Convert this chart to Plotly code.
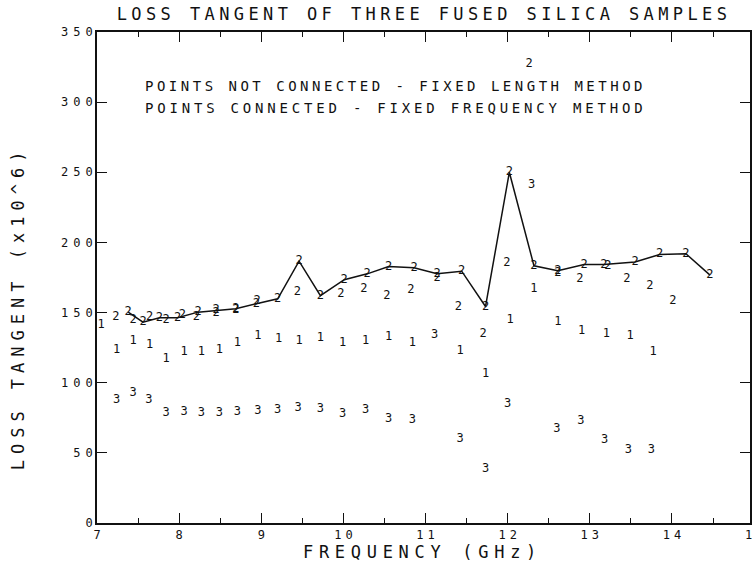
import plotly.graph_objects as go

# ---------------- data ----------------
# Sample 1 - fixed length method (points not connected)
freq_s1 = [7.05, 7.24, 7.44, 7.64, 7.84, 8.06, 8.27, 8.49, 8.71, 8.96, 9.21, 9.46, 9.72,
           9.99, 10.27, 10.55, 10.84, 11.42, 11.73, 12.03, 12.32, 12.61, 12.90, 13.20, 13.49, 13.77]
loss_s1 = [141, 123, 130, 127, 117, 122, 122, 123.5, 128, 133, 131, 130, 132,
           128, 130, 132.5, 128, 122.5, 106, 145, 167, 143, 137, 135, 133, 122]

# Sample 2 - fixed length method (points not connected)
freq_s2 = [7.23, 7.44, 7.64, 7.84, 8.04, 8.21, 8.45, 8.69, 8.95, 9.44, 9.97, 10.25, 10.53,
           10.82, 11.14, 11.40, 11.70, 11.99, 12.26, 12.61, 12.88, 13.22, 13.45, 13.73, 14.01]
loss_s2 = [147, 145, 147, 145, 148.5, 147, 150, 152, 158.5, 164.5, 163.5, 167, 161.5,
           166, 175, 154, 135, 185, 327, 178, 174, 183, 174, 169, 158.6]

# Sample 2 - fixed frequency method (points connected)
freq_s2c = [7.38, 7.56, 7.76, 7.98, 8.23, 8.45, 8.69, 8.94, 9.20, 9.46, 9.72, 10.01, 10.29,
            10.55, 10.86, 11.14, 11.44, 11.73, 12.02, 12.32, 12.61, 12.93, 13.17, 13.55,
            13.85, 14.17, 14.46]
loss_s2c = [150.3, 143.2, 146.3, 146.3, 150.3, 151.5, 152.7, 156.3, 159.8, 186.6, 162, 173.4,
            177.6, 182.8, 181.9, 177.6, 179.5, 154.3, 250, 183.3, 179.9, 184.2, 184.2, 186,
            191.4, 191.9, 176.9]

# Sample 3 - fixed length method (points not connected)
freq_s3 = [7.24, 7.44, 7.63, 7.84, 8.06, 8.27, 8.49, 8.71, 8.96, 9.20, 9.45, 9.72, 9.99,
           10.27, 10.55, 10.84, 11.11, 11.42, 11.73, 12.00, 12.29, 12.60, 12.89, 13.18, 13.47, 13.75]
loss_s3 = [87.4, 92.6, 87.9, 78.3, 79.1, 78.3, 78.3, 79.1, 79.8, 80.8, 82.2, 81.5, 77.9,
           80.3, 74.4, 73.6, 133.7, 60.1, 38.5, 85, 241, 67.2, 72.6, 59.4, 51.8, 51.8]

x_ticks = [7, 8, 9, 10, 11, 12, 13, 14]
x_minor = [7.5, 8.5, 9.5, 10.5, 11.5, 12.5, 13.5, 14.5]
y_ticks = [0, 50, 100, 150, 200, 250, 300, 350]

title_text = "LOSS TANGENT OF THREE FUSED SILICA SAMPLES"
legend_lines = ["POINTS NOT CONNECTED - FIXED LENGTH METHOD",
                "POINTS CONNECTED - FIXED FREQUENCY METHOD"]
x_label = "FREQUENCY (GHz)"
y_label = "LOSS TANGENT (x10^6)"

# ---------------- styling ----------------
MONO = "DejaVu Sans Mono"
INK = "#111111"


def spaced(t, px):
    # letter-spacing on all but the last glyph, so no trailing gap is added
    if len(t) < 2:
        return t
    return f'<span style="letter-spacing:{px}px">{t[:-1]}</span>{t[-1]}'


mark_font = dict(family=MONO, size=12, color=INK)

fig = go.Figure()

fig.add_trace(go.Scatter(x=freq_s1, y=loss_s1, mode="text", text=["1"] * len(freq_s1),
                         textfont=mark_font, showlegend=False, hoverinfo="x+y"))
fig.add_trace(go.Scatter(x=freq_s2, y=loss_s2, mode="text", text=["2"] * len(freq_s2),
                         textfont=mark_font, showlegend=False, hoverinfo="x+y"))
fig.add_trace(go.Scatter(x=freq_s3, y=loss_s3, mode="text", text=["3"] * len(freq_s3),
                         textfont=mark_font, showlegend=False, hoverinfo="x+y"))
fig.add_trace(go.Scatter(x=freq_s2c, y=loss_s2c, mode="lines+text", text=["2"] * len(freq_s2c),
                         textfont=mark_font, line=dict(color=INK, width=1.5),
                         showlegend=False, hoverinfo="x+y"))

tick_font = dict(family=MONO, size=12, color=INK)

fig.update_layout(
    width=752, height=569,
    margin=dict(l=97, r=0, t=32, b=46, pad=0),
    paper_bgcolor="white", plot_bgcolor="white",
    title=dict(text=spaced(title_text, 4.4), x=0.561, xref="container", xanchor="center",
               y=1 - 14 / 569, yref="container", yanchor="middle",
               font=dict(family=MONO, size=17, color=INK)),
    xaxis=dict(range=[7, 14.95], tickmode="array", tickvals=x_ticks,
               ticktext=[spaced(str(v), 4) for v in x_ticks],
               ticks="inside", ticklen=10, tickwidth=1.3, tickcolor=INK,
               showline=True, linecolor=INK, linewidth=1.6, mirror="ticks",
               showgrid=False, zeroline=False, tickfont=tick_font,
               minor=dict(tickvals=x_minor, ticks="inside", ticklen=5, tickwidth=1.2,
                          tickcolor=INK, showgrid=False)),
    yaxis=dict(range=[0, 350], tickmode="array", tickvals=y_ticks,
               ticktext=[spaced(str(v), 5) for v in y_ticks],
               ticks="inside", ticklen=10, tickwidth=1.3, tickcolor=INK,
               showline=True, linecolor=INK, linewidth=1.6, mirror="ticks",
               showgrid=False, zeroline=False, tickfont=tick_font),
    annotations=[
        dict(text=spaced(legend_lines[0], 3.5), xref="paper", yref="paper",
             x=0.0705, y=0.891, xanchor="left", yanchor="middle", showarrow=False,
             font=dict(family=MONO, size=14, color=INK)),
        dict(text=spaced(legend_lines[1], 3.8), xref="paper", yref="paper",
             x=0.0705, y=0.846, xanchor="left", yanchor="middle", showarrow=False,
             font=dict(family=MONO, size=14, color=INK)),
        dict(text=spaced(x_label, 5.7), xref="paper", yref="paper",
             x=0.494, y=-0.0597, xanchor="center", yanchor="middle", showarrow=False,
             font=dict(family=MONO, size=17, color=INK)),
        dict(text=spaced(y_label, 6), xref="paper", yref="paper", textangle=-90,
             x=-0.1211, y=0.433, xanchor="center", yanchor="middle", showarrow=False,
             font=dict(family=MONO, size=17, color=INK)),
        dict(text=spaced("15", 4), xref="paper", yref="paper",
             x=1.006, y=-0.025, xanchor="center", yanchor="middle", showarrow=False,
             font=tick_font),
    ],
)

fig.write_html("out.html")
